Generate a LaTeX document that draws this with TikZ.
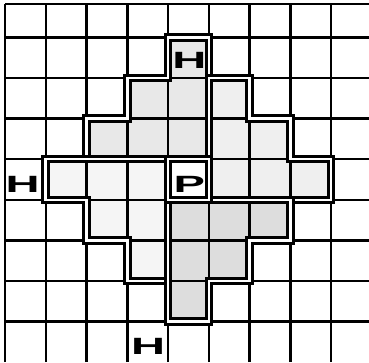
\documentclass[tikz,border=0pt]{standalone}
\usepackage{fontspec}
\usepackage{graphicx}
\setsansfont{Liberation Sans}
\usetikzlibrary{positioning}
\definecolor{zonetop}{RGB}{232,232,232}
\definecolor{zoneright}{RGB}{239,239,239}
\definecolor{zoneleft}{RGB}{245,245,245}
\definecolor{zonebottom}{RGB}{221,221,221}
\newcommand{\wideglyph}[1]{\scalebox{2.0}[1]{#1}}
\newcommand{\armtop}{(2,5) -- (5,5) -- (5,8) -- (4,8) -- (4,7) -- (3,7) -- (3,6) -- (2,6) -- cycle}
\newcommand{\armright}{(5,4) -- (8,4) -- (8,5) -- (7,5) -- (7,6) -- (6,6) -- (6,7) -- (5,7) -- cycle}
\newcommand{\armleft}{(1,5) -- (4,5) -- (4,2) -- (3,2) -- (3,3) -- (2,3) -- (2,4) -- (1,4) -- cycle}
\newcommand{\armbottom}{(4,4) -- (7,4) -- (7,3) -- (6,3) -- (6,2) -- (5,2) -- (5,1) -- (4,1) -- cycle}
\tikzset{
  gridline/.style={
    line width=1.7pt,
    black
  },
  zone/.style={
    draw=black,
    line width=2.1pt,
    double=white,
    double distance=1.8pt
  },
  piece/.style={
    inner sep=0pt,
    font=\sffamily\bfseries\fontsize{16.5}{16.5}\selectfont
  }
}

\begin{document}
\begin{tikzpicture}[x=1.0044cm, y=1cm]
  \useasboundingbox (-0.123,0) rectangle (8.93,8.923);
  % shaded arms
  \fill[zonetop] \armtop;
  \fill[zoneright] \armright;
  \fill[zoneleft] \armleft;
  \fill[zonebottom] \armbottom;
  % board
  \foreach \x in {0,...,8}
    \draw[gridline] (\x,0) -- (\x,8.82);
  \foreach \y in {1,...,8}
    \draw[gridline] (0,\y) -- (8.93,\y);
  \draw[gridline] (0,8.82) -- (8.93,8.82);
  % outlines
  \draw[zone] \armtop;
  \draw[zone] \armright;
  \draw[zone] \armleft;
  \draw[zone] \armbottom;
  \draw[zone] (4,4) rectangle (5,5);
  % pieces
  \node[piece] (htop) at (4.52,7.43) {\wideglyph{H}};
  \node[piece] (pawn) at (4.52,4.38) {\wideglyph{P}};
  \node[piece] (hleft) at (0.43,4.38) {\wideglyph{H}};
  \node[piece] (hbottom) at (3.51,0.38) {\wideglyph{H}};
\end{tikzpicture}
\end{document}
